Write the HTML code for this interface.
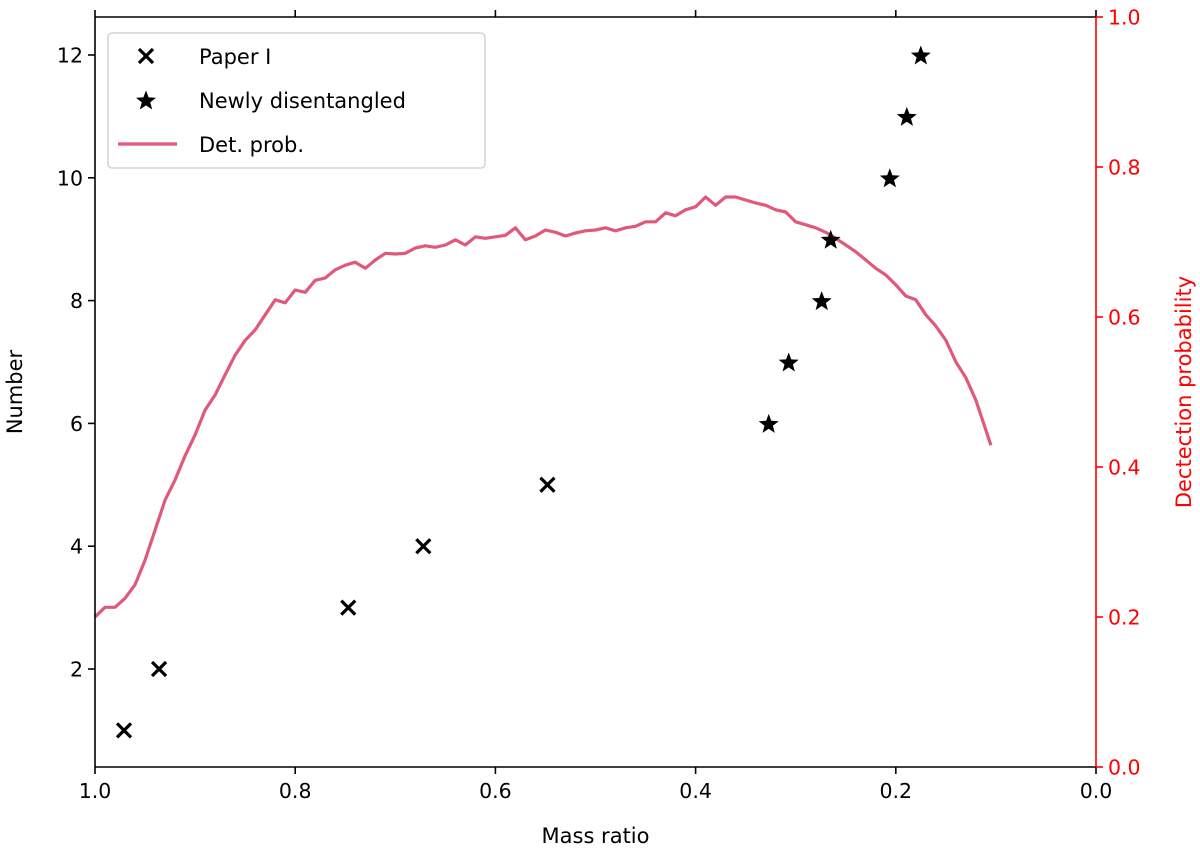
<!DOCTYPE html>
<html><head><meta charset="utf-8"><style>
body{margin:0;background:#fff;}
svg{display:block;font-family:"DejaVu Sans","Liberation Sans",sans-serif;}
</style></head><body>
<svg id="chart" width="1200" height="853" viewBox="0 0 1200 853" xmlns="http://www.w3.org/2000/svg"></svg>
<script>
const xTicks=[1.0,0.8,0.6,0.4,0.2,0.0];
const xTickLabels=["1.0","0.8","0.6","0.4","0.2","0.0"];
const yTicks=[2,4,6,8,10,12];
const y2Ticks=[0.0,0.2,0.4,0.6,0.8,1.0];
const paperQ=[0.971,0.936,0.747,0.672,0.548];
const paperN=[1,2,3,4,5];
const newQ=[0.327,0.307,0.274,0.265,0.206,0.189,0.175];
const newN=[6,7,8,9,10,11,12];
const probQ=[1.0,0.99,0.98,0.97,0.96,0.95,0.94,0.93,0.92,0.91,0.90,0.89,0.88,0.87,0.86,0.85,0.84,0.83,0.82,0.81,0.80,0.79,0.78,0.77,0.76,0.75,0.74,0.73,0.72,0.71,0.70,0.69,0.68,0.67,0.66,0.65,0.64,0.63,0.62,0.61,0.60,0.59,0.58,0.57,0.56,0.55,0.54,0.53,0.52,0.51,0.50,0.49,0.48,0.47,0.46,0.45,0.44,0.43,0.42,0.41,0.40,0.39,0.38,0.37,0.36,0.35,0.34,0.33,0.32,0.31,0.30,0.29,0.28,0.27,0.26,0.25,0.24,0.23,0.22,0.21,0.20,0.19,0.18,0.17,0.16,0.15,0.14,0.13,0.12,0.11,0.105];
const probP=[0.200,0.213,0.213,0.225,0.243,0.276,0.316,0.356,0.383,0.415,0.443,0.476,0.496,0.523,0.549,0.569,0.583,0.603,0.623,0.619,0.636,0.633,0.649,0.652,0.663,0.669,0.673,0.665,0.676,0.685,0.684,0.685,0.692,0.695,0.693,0.696,0.703,0.696,0.707,0.705,0.707,0.709,0.719,0.703,0.708,0.716,0.713,0.708,0.712,0.715,0.716,0.719,0.715,0.719,0.721,0.727,0.727,0.739,0.735,0.743,0.747,0.760,0.749,0.760,0.760,0.756,0.752,0.749,0.743,0.740,0.727,0.723,0.719,0.713,0.705,0.696,0.687,0.676,0.665,0.656,0.643,0.628,0.623,0.603,0.588,0.569,0.540,0.519,0.489,0.449,0.429];

const L=95,R=1096,T=17,B=767;
const xs=q=>L+(1-q)*(R-L);
const ys=n=>55+(12-n)*61.4;
const y2=p=>B-p*(B-T);
const svg=document.getElementById('chart');
const NS='http://www.w3.org/2000/svg';
function mk(tag,attrs,parent){const e=document.createElementNS(NS,tag);for(const k in attrs)e.setAttribute(k,attrs[k]);(parent||svg).appendChild(e);return e;}

let d=probQ.map((q,i)=>(i?'L':'M')+xs(q).toFixed(1)+' '+y2(probP[i]).toFixed(1)).join(' ');
const curve=mk('path',{d:d,fill:'none',stroke:'#e0587a','stroke-width':3.2,'stroke-linejoin':'round'});



paperQ.forEach((q,i)=>{const x=xs(q),y=ys(paperN[i]);
 const g=mk('path',{d:`M${x-7} ${y-7}L${x+7} ${y+7}M${x-7} ${y+7}L${x+7} ${y-7}`,stroke:'#000','stroke-width':3.2});
 
 });
function star(x,y,r){let p='';for(let k=0;k<10;k++){const a=-Math.PI/2+k*Math.PI/5;const rr=k%2?r*0.42:r;p+=(k?'L':'M')+(x+rr*Math.cos(a)).toFixed(1)+' '+(y+rr*Math.sin(a)).toFixed(1);}return p+'Z';}
newQ.forEach((q,i)=>{const s=mk('path',{d:star(xs(q),ys(newN[i])+1,10.5),fill:'#000'});
 
 });

mk('line',{x1:L,y1:T,x2:L,y2:B,stroke:'#000','stroke-width':1.6});
mk('line',{x1:L,y1:B,x2:R,y2:B,stroke:'#000','stroke-width':1.6});
mk('line',{x1:L,y1:T,x2:R,y2:T,stroke:'#000','stroke-width':1.6});
mk('line',{x1:R,y1:T,x2:R,y2:B,stroke:'#ff0000','stroke-width':1.6});

xTicks.forEach((t,i)=>{const x=xs(t);
 mk('line',{x1:x,y1:B,x2:x,y2:B+7,stroke:'#000','stroke-width':1.6});
 mk('line',{x1:x,y1:T,x2:x,y2:T-7,stroke:'#000','stroke-width':1.6});
 const tx=mk('text',{x:x,y:B+31,'text-anchor':'middle','font-size':20.5});tx.textContent=xTickLabels[i];
 
 });
yTicks.forEach(t=>{const y=ys(t);
 mk('line',{x1:L,y1:y,x2:L-7,y2:y,stroke:'#000','stroke-width':1.6});
 const tx=mk('text',{x:L-12,y:y+7.5,'text-anchor':'end','font-size':20.5});tx.textContent=t;
 
 });
y2Ticks.forEach(t=>{const y=y2(t);
 mk('line',{x1:R,y1:y,x2:R+7,y2:y,stroke:'#ff0000','stroke-width':1.6});
 const tx=mk('text',{x:R+12,y:y+7.5,'font-size':20.5,fill:'#ff0000'});tx.textContent=t.toFixed(1);
 
 });

let t=mk('text',{x:(L+R)/2,y:843,'text-anchor':'middle','font-size':21});t.textContent='Mass ratio';

t=mk('text',{x:22,y:392,'text-anchor':'middle','font-size':21,transform:'rotate(-90 22 392)'});t.textContent='Number';

t=mk('text',{x:1191,y:392,'text-anchor':'middle','font-size':21,fill:'#ff0000',transform:'rotate(-90 1191 392)'});t.textContent='Dectection probability';


const lg=mk('g',{});


mk('rect',{x:108,y:33,width:377,height:135,rx:4,fill:'#fff','fill-opacity':0.8,stroke:'#ccc','stroke-width':1.3},lg);
mk('path',{d:'M139 49L153 63M139 63L153 49',stroke:'#000','stroke-width':3.2},lg);
mk('path',{d:star(146,101,10.5),fill:'#000'},lg);
mk('line',{x1:118,y1:144,x2:177,y2:144,stroke:'#e0587a','stroke-width':3.2},lg);
[['Paper I',64],['Newly disentangled',108],['Det. prob.',152]].forEach(([s,y])=>{const e=mk('text',{x:199,y:y,'font-size':21},lg);e.textContent=s;
 
 });
</script>
</body></html>
